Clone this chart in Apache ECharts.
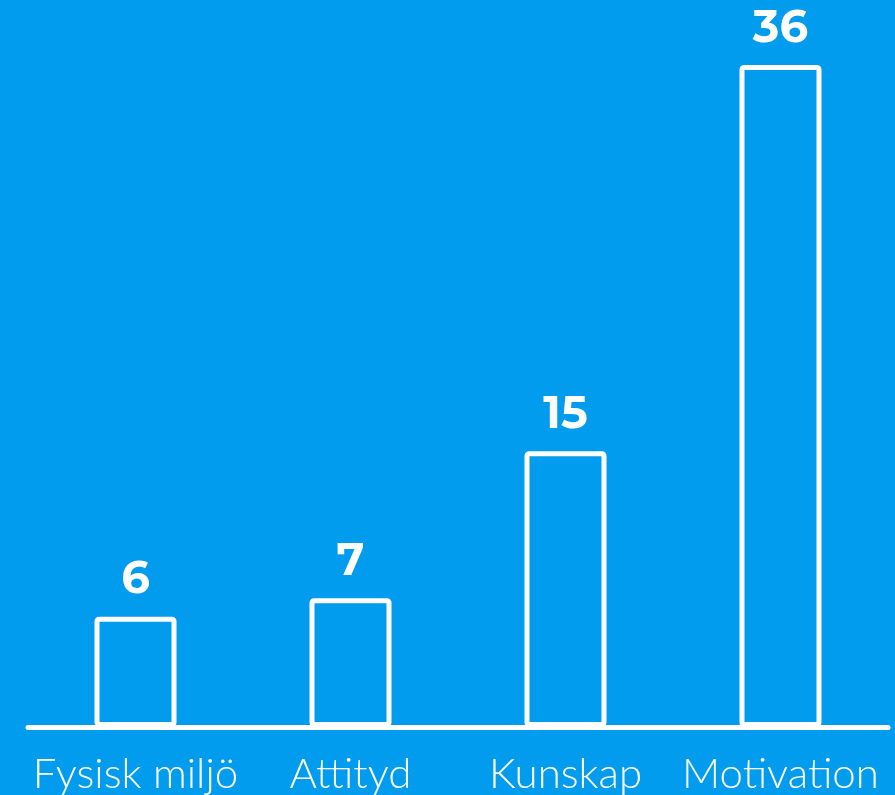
<!DOCTYPE html>
<html lang="sv">
<head>
    <meta charset="UTF-8">
    <title>Stapeldiagram</title>
    <script src="https://cdn.jsdelivr.net/npm/echarts@6/dist/echarts.min.js"></script>
    <style>
        * { margin: 0; padding: 0; box-sizing: border-box; }
        html, body { width: 895px; height: 795px; background: #029cef; overflow: hidden; }
        #chart { width: 895px; height: 795px; }
    </style>
</head>
<body>
    <div id="chart"></div>
    <script>
        const categories = ['Fysisk miljö', 'Attityd', 'Kunskap', 'Motivation'];
        const values = [6, 7, 15, 36];

        const chart = echarts.init(document.getElementById('chart'));
        chart.setOption({
            backgroundColor: '#029cef',
            animation: false,
            grid: { left: 28, right: 7, top: 65, bottom: 65, containLabel: false },
            xAxis: {
                type: 'category',
                data: categories,
                axisLine: { lineStyle: { color: '#fff', width: 5 } },
                axisTick: { show: false },
                axisLabel: {
                    color: '#fff',
                    fontFamily: 'Lato',
                    fontWeight: 300,
                    fontSize: 42,
                    margin: 26,
                    interval: 0
                }
            },
            yAxis: {
                type: 'value',
                min: 0,
                max: 36,
                show: false
            },
            series: [{
                type: 'bar',
                data: values,
                barWidth: 82,
                itemStyle: {
                    color: 'rgba(0,0,0,0)',
                    borderColor: '#fff',
                    borderWidth: 5,
                    borderRadius: 2
                },
                label: {
                    show: true,
                    position: 'top',
                    distance: 14,
                    color: '#fff',
                    fontFamily: 'Montserrat, "DejaVu Sans", sans-serif',
                    fontWeight: 'bold',
                    fontSize: 45
                }
            }]
        });
    </script>
</body>
</html>
